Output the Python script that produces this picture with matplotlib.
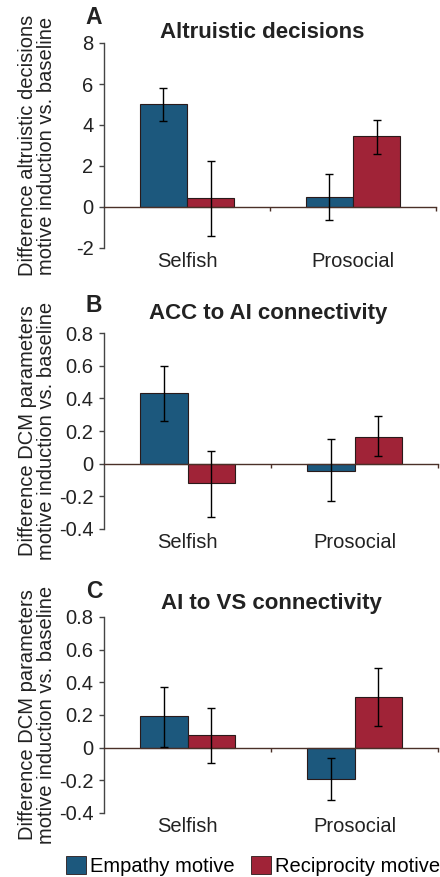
import matplotlib
matplotlib.use("Agg")
import matplotlib.pyplot as plt
import numpy as np
from matplotlib.patches import Patch

plt.rcParams['font.family'] = ['Liberation Sans', 'DejaVu Sans']
plt.rcParams['axes.unicode_minus'] = False

categories = ["Selfish", "Prosocial"]
series_names = ["Empathy motive", "Reciprocity motive"]

# Panel A: altruistic decisions
a_empathy = [5.02, 0.50]
a_empathy_lo = [4.2, -0.63]
a_empathy_hi = [5.8, 1.6]
a_recip = [0.44, 3.44]
a_recip_lo = [-1.43, 2.6]
a_recip_hi = [2.22, 4.22]

# Panel B: ACC to AI connectivity
b_empathy = [0.43, -0.045]
b_empathy_lo = [0.26, -0.23]
b_empathy_hi = [0.60, 0.15]
b_recip = [-0.12, 0.165]
b_recip_lo = [-0.325, 0.05]
b_recip_hi = [0.08, 0.29]

# Panel C: AI to VS connectivity
c_empathy = [0.195, -0.19]
c_empathy_lo = [0.005, -0.32]
c_empathy_hi = [0.37, -0.065]
c_recip = [0.075, 0.31]
c_recip_lo = [-0.095, 0.13]
c_recip_hi = [0.245, 0.49]

a_ticks = [-2, 0, 2, 4, 6, 8]
bc_ticks = [-0.4, -0.2, 0, 0.2, 0.4, 0.6, 0.8]
a_ticklabels = ["-2", "0", "2", "4", "6", "8"]
bc_ticklabels = ["-0.4", "-0.2", "0", "0.2", "0.4", "0.6", "0.8"]

letters = ["A", "B", "C"]
titles = ["Altruistic decisions", "ACC to AI connectivity", "AI to VS connectivity"]
ylabels = ["Difference altruistic decisions\nmotive induction vs. baseline",
           "Difference DCM parameters\nmotive induction vs. baseline",
           "Difference DCM parameters\nmotive induction vs. baseline"]

BLUE = "#1c587d"
RED = "#a02337"
EDGE = "#2a1a1a"
ZERO = "#4a3028"
SPINE = "#444444"

W, H = 440, 877
fig = plt.figure(figsize=(W / 100, H / 100), dpi=100)

# axes rects in pixel (left, top, right, bottom)
rects = [(104, 43, 436, 248), (104, 333, 438, 529), (104, 617, 438, 813)]

panels = [
    (a_empathy, a_empathy_lo, a_empathy_hi, a_recip, a_recip_lo, a_recip_hi, a_ticks, a_ticklabels, (-2, 8)),
    (b_empathy, b_empathy_lo, b_empathy_hi, b_recip, b_recip_lo, b_recip_hi, bc_ticks, bc_ticklabels, (-0.4, 0.8)),
    (c_empathy, c_empathy_lo, c_empathy_hi, c_recip, c_recip_lo, c_recip_hi, bc_ticks, bc_ticklabels, (-0.4, 0.8)),
]

width = 0.285
x = np.arange(len(categories))

for i, (p, r) in enumerate(zip(panels, rects)):
    emp, emp_lo, emp_hi, rec, rec_lo, rec_hi, ticks, ticklabels, ylim = p
    l, t, rr, b = r
    ax = fig.add_axes([l / W, 1 - b / H, (rr - l) / W, (b - t) / H])
    emp = np.array(emp); rec = np.array(rec)
    emp_err = [emp - np.array(emp_lo), np.array(emp_hi) - emp]
    rec_err = [rec - np.array(rec_lo), np.array(rec_hi) - rec]
    ax.bar(x - width / 2, emp, width, color=BLUE, edgecolor=EDGE, linewidth=0.8, zorder=2)
    ax.bar(x + width / 2, rec, width, color=RED, edgecolor=EDGE, linewidth=0.8, zorder=2)
    ax.errorbar(x - width / 2, emp, yerr=emp_err, fmt='none', ecolor='black',
                elinewidth=1.0, capsize=3, capthick=1.0, zorder=4)
    ax.errorbar(x + width / 2, rec, yerr=rec_err, fmt='none', ecolor='black',
                elinewidth=1.0, capsize=3, capthick=1.0, zorder=4)

    ax.set_xlim(-0.5, 1.5)
    ax.set_ylim(*ylim)
    ax.set_yticks(ticks)
    ax.set_yticklabels(ticklabels)
    ax.spines['top'].set_visible(False)
    ax.spines['right'].set_visible(False)
    ax.spines['left'].set_color(SPINE)
    ax.spines['left'].set_linewidth(1.0)
    ax.spines['bottom'].set_position(('data', 0))
    ax.spines['bottom'].set_color(ZERO)
    ax.spines['bottom'].set_linewidth(1.0)
    ax.spines['bottom'].set_zorder(3)
    ax.set_xticks([0.5, 1.5])
    ax.set_xticklabels(["", ""])
    ax.tick_params(axis='x', direction='out', length=3, width=1.0, color=ZERO)
    ax.tick_params(axis='y', direction='out', length=3.5, width=1.0, color=SPINE,
                   labelsize=14.5, pad=4, labelcolor='#222222')
    for j, c in enumerate(categories):
        ax.annotate(c, xy=(x[j], 0), xycoords=('data', 'axes fraction'),
                    xytext=(0, -3), textcoords='offset points', ha='center', va='top',
                    fontsize=14.5, color='#222222')
    ax.set_ylabel(ylabels[i], fontsize=14.5, linespacing=1.0, color='#222222')
    ax.yaxis.set_label_coords(-0.145, 0.5)
    ax.set_facecolor('none')

    # title & panel letter (pixel-based positions)
    title_y = [33, 313, 603][i]
    title_x = [262, 268, 271][i]
    fig.text(title_x / W, 1 - title_y / H, titles[i], fontsize=16, fontweight='bold',
             ha='center', va='center', color='#222222')
    letter_y = [17, 306, 592][i]
    fig.text(94 / W, 1 - letter_y / H, letters[i], fontsize=16.5, fontweight='bold',
             ha='center', va='center', color='#222222',
             family=['Liberation Sans Narrow', 'Liberation Sans', 'DejaVu Sans'])

handles = [Patch(facecolor=BLUE, edgecolor=EDGE, linewidth=0.6),
           Patch(facecolor=RED, edgecolor=EDGE, linewidth=0.6)]
fig.legend(handles, series_names, loc='center', bbox_to_anchor=(253 / W, 1 - 866 / H),
           ncol=2, frameon=False, fontsize=14.5, handlelength=1.0, handleheight=1.0,
           handletextpad=0.2, columnspacing=0.8, borderpad=0, borderaxespad=0)

fig.savefig("out.png", dpi=100)
